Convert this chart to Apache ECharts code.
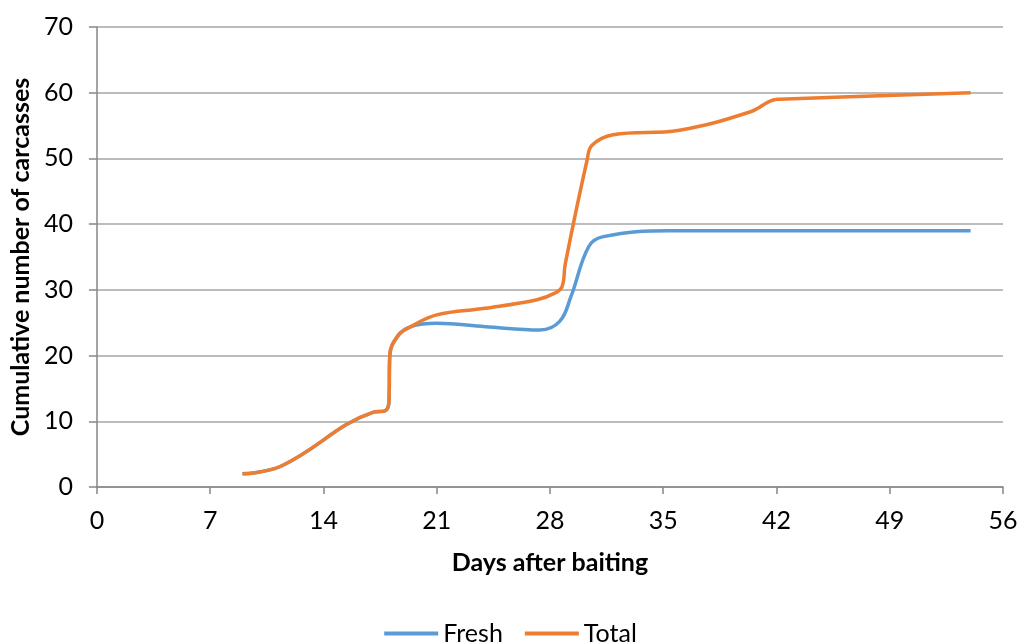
<!DOCTYPE html>
<html>
<head>
<meta charset="utf-8">
<script src="https://cdn.jsdelivr.net/npm/echarts@6/dist/echarts.min.js"></script>
<style>
html,body{margin:0;padding:0;background:#fff;}
#chart{width:1021px;height:644px;}
</style>
</head>
<body>
<div id="chart"></div>
<script>
const xTicks = [0, 7, 14, 21, 28, 35, 42, 49, 56];
const yTicks = [0, 10, 20, 30, 40, 50, 60, 70];

const freshDays  = [9, 11.4, 17.1, 17.8, 18.05, 18.1, 18.6, 19.4, 21, 24, 27.4, 28.6, 29.3, 30.4, 31.3, 35.4, 54];
const freshCount = [2, 3.2, 11.4, 11.6, 13, 20, 23, 24.4, 24.9, 24.4, 23.9, 25.2, 29, 36.6, 38.1, 39, 39];

const totalDays  = [9, 11.4, 17.1, 17.8, 18.05, 18.1, 18.6, 19.4, 21, 24, 27.2, 28.3, 28.75, 28.95, 30.3, 30.6, 31.9, 36, 40.4, 41.8, 42.2, 54];
const totalCount = [2, 3.2, 11.4, 11.6, 13, 20, 23, 24.4, 26.2, 27.2, 28.5, 29.5, 30.5, 34, 49.8, 52, 53.6, 54.3, 57.1, 58.9, 59, 60];

const FONT = 'Lato';
const FS = 25;
const chart = echarts.init(document.getElementById('chart'));
chart.setOption({
  animation: false,
  textStyle: {fontFamily: FONT},
  grid: {left: 96, right: 18, top: 27, bottom: 157, containLabel: false},
  legend: {
    top: 616,
    left: 'center',
    data: ['Fresh', 'Total'],
    icon: 'rect',
    itemWidth: 54,
    itemHeight: 4,
    itemGap: 22,
    textStyle: {fontFamily: FONT, fontSize: FS, color: '#000', padding: [0, 0, 0, 0]}
  },
  xAxis: {
    type: 'value',
    min: xTicks[0], max: xTicks[xTicks.length - 1], interval: 7,
    name: 'Days after baiting',
    nameLocation: 'middle',
    nameGap: 63,
    nameTextStyle: {fontFamily: FONT, fontSize: FS, fontWeight: 'bold', color: '#000'},
    axisLine: {show: true, lineStyle: {color: '#868686', width: 1.5}},
    axisTick: {show: true, inside: false, length: 7, lineStyle: {color: '#868686', width: 1.5}},
    axisLabel: {fontFamily: FONT, fontSize: FS, color: '#000', margin: 21},
    splitLine: {show: false}
  },
  yAxis: {
    type: 'value',
    min: yTicks[0], max: yTicks[yTicks.length - 1], interval: 10,
    name: 'Cumulative number of carcasses',
    nameLocation: 'middle',
    nameGap: 60,
    nameTextStyle: {fontFamily: FONT, fontSize: FS, fontWeight: 'bold', color: '#000'},
    axisLine: {show: true, lineStyle: {color: '#868686', width: 1.5}},
    axisTick: {show: true, inside: false, length: 8, lineStyle: {color: '#868686', width: 1.5}},
    axisLabel: {fontFamily: FONT, fontSize: FS, color: '#000', margin: 24},
    splitLine: {show: true, lineStyle: {color: '#a6a6a6', width: 1.5}}
  },
  series: [
    {
      name: 'Fresh', type: 'line', smooth: 0.4, symbol: 'none',
      lineStyle: {color: '#5B9BD5', width: 3.5},
      itemStyle: {color: '#5B9BD5'},
      data: freshDays.map((d, i) => [d, freshCount[i]])
    },
    {
      name: 'Total', type: 'line', smooth: 0.4, symbol: 'none',
      lineStyle: {color: '#ED7D31', width: 3.5},
      itemStyle: {color: '#ED7D31'},
      data: totalDays.map((d, i) => [d, totalCount[i]])
    }
  ]
});
</script>
</body>
</html>
